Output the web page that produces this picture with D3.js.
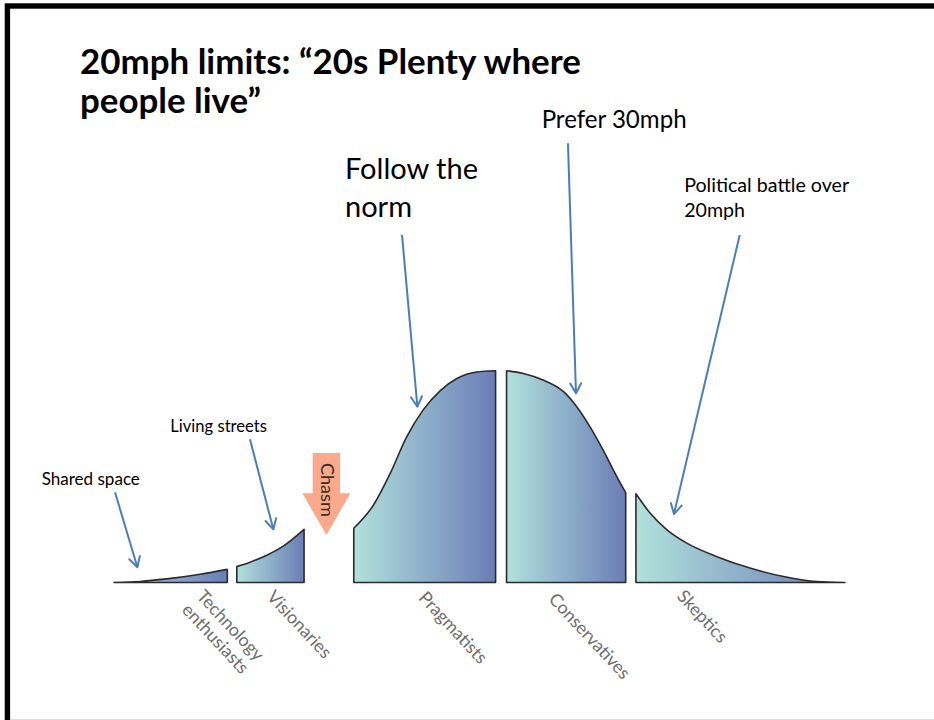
<!DOCTYPE html>
<html>
<head>
<meta charset="utf-8">
<script src="https://cdn.jsdelivr.net/npm/d3@7/dist/d3.min.js"></script>
<style>
  html, body { margin: 0; padding: 0; background: #fff; }
  svg { display: block; }
</style>
</head>
<body>
<svg id="chart" width="934" height="720"></svg>
<script>
// ---------- DATA ----------
const titleLines = ["20mph limits: \u201C20s Plenty where", "people live\u201D"];

const categories = ["Technology enthusiasts", "Visionaries", "Pragmatists", "Conservatives", "Skeptics"];
const categoryLabelLines = [["Technology", "enthusiasts"], ["Visionaries"], ["Pragmatists"], ["Conservatives"], ["Skeptics"]];

// curve samples: [position along adoption axis (0-100), height of curve (0-100 = peak)]
const enthusiastsCurve = [[0, 0], [3.6, 0.5], [7.2, 1.7], [11.8, 3.9], [15.5, 6.2]];
const visionariesCurve = [[16.8, 7.5], [18.6, 9.6], [20.9, 12.9], [23.2, 17.3], [26.0, 25.1]];
const pragmatistsCurve = [[32.8, 25.6], [35.5, 36.6], [37.8, 51.6], [40.0, 68.5], [42.3, 81.5], [44.6, 90.5], [46.9, 96.3], [49.6, 99.4], [52.2, 100]];
const conservativesCurve = [[53.7, 100], [56.0, 98.7], [58.7, 95.6], [61.5, 90.1], [63.3, 83.0], [65.1, 73.6], [66.9, 62.6], [68.8, 49.9], [70.0, 42.4]];
const skepticsCurve = [[71.4, 41.9], [73.3, 32.9], [75.6, 25.0], [78.3, 18.7], [82.4, 12.3], [87.0, 6.8], [91.6, 2.8], [96.1, 0.4], [100, 0]];

const chasmLabel = "Chasm";

const annotationTexts = [["Shared space"], ["Living streets"], ["Follow the", "norm"], ["Prefer 30mph"], ["Political battle over", "20mph"]];
// arrow tips (where each note points on the curve), same units as the curves
const annotationTargets = [[3.2, 7.2], [21.8, 25.1], [41.5, 83.0], [63.2, 89.3], [76.6, 32.3]];

// ---------- LAYOUT ----------
const svg = d3.select("#chart");
const x = d3.scaleLinear().domain([0, 100]).range([114, 845]);
const y = d3.scaleLinear().domain([0, 100]).range([582.5, 370.7]);

const curves = [enthusiastsCurve, visionariesCurve, pragmatistsCurve, conservativesCurve, skepticsCurve];
const gradStops = [
  ["#b3cfe0", "#6a7db6"],
  ["#b1e1dc", "#6b7db7"],
  ["#b1e1dc", "#6b7db7"],
  ["#b1e1dc", "#6b7db7"],
  ["#b1e1dc", "#6b7db7"]
];

// frame
svg.append("rect").attr("x", 0).attr("y", 0).attr("width", 934).attr("height", 720).attr("fill", "#fff");
svg.append("line").attr("x1", 10).attr("x2", 934).attr("y1", 719.5).attr("y2", 719.5)
  .attr("stroke", "#dedede").attr("stroke-width", 1);
svg.append("rect").attr("x", 7.4).attr("y", 6).attr("width", 1200).attr("height", 1200)
  .attr("fill", "none").attr("stroke", "#000").attr("stroke-width", 5.4);

const defs = svg.append("defs");
curves.forEach((c, i) => {
  const g = defs.append("linearGradient").attr("id", "grad" + i)
    .attr("x1", "0%").attr("x2", "100%").attr("y1", "0%").attr("y2", "0%");
  g.append("stop").attr("offset", "0%").attr("stop-color", gradStops[i][0]);
  g.append("stop").attr("offset", "100%").attr("stop-color", gradStops[i][1]);
});
defs.append("marker").attr("id", "arrowhead")
  .attr("markerUnits", "userSpaceOnUse")
  .attr("viewBox", "-13 -8 16 16").attr("refX", 0).attr("refY", 0)
  .attr("markerWidth", 16).attr("markerHeight", 16).attr("orient", "auto")
  .append("path").attr("d", "M-10,-5.5 L0,0 L-10,5.5")
  .attr("fill", "none").attr("stroke", "#4a7ebb").attr("stroke-width", 2)
  .attr("stroke-linecap", "round").attr("stroke-linejoin", "round");

// segments
const area = d3.area()
  .x(d => x(d[0])).y0(y(0)).y1(d => y(d[1]))
  .curve(d3.curveMonotoneX);

svg.append("g").selectAll("path").data(curves).join("path")
  .attr("d", d => area(d))
  .attr("fill", (d, i) => `url(#grad${i})`)
  .attr("stroke", "#2b2b2b").attr("stroke-width", 1.6)
  .attr("stroke-linejoin", "round");

// category labels (rotated)
const labelAngle = 47;
const rad = labelAngle * Math.PI / 180;
const labelStart = [[195.7, 597], [266, 597.5], [417.7, 598.5], [547.7, 600], [676, 597]];
const labelG = svg.append("g");
const labelTexts = [];
categoryLabelLines.forEach((lines, i) => {
  lines.forEach((ln, j) => {
    const lh = 20;
    const sx = labelStart[i][0] - Math.sin(rad) * lh * j;
    const sy = labelStart[i][1] + Math.cos(rad) * lh * j;
    const t = labelG.append("text")
      .attr("transform", `translate(${sx},${sy}) rotate(${labelAngle})`)
      .attr("font-family", "Lato, 'Open Sans', sans-serif")
      .attr("font-weight", 400)
      .attr("font-size", 14)
      .attr("fill", "#6e6e6e")
      .text(ln);
    labelTexts.push(t);
  });
});
// fit label size to reference widths overall
{
  const targets = { "Technology": 87, "enthusiasts": 86, "Visionaries": 85, "Pragmatists": 91, "Conservatives": 109, "Skeptics": 69 };
  let meas = 0, tgt = 0;
  labelTexts.forEach(t => { meas += t.node().getComputedTextLength(); tgt += targets[t.text()]; });
  const fs = 14 * tgt / meas;
  labelTexts.forEach(t => t.attr("font-size", fs));
}

// chasm arrow
const cx = x((visionariesCurve[visionariesCurve.length - 1][0] + pragmatistsCurve[0][0]) / 2) - 2.5;
const chasmTop = y(61.2), chasmHead = y(42.1), chasmTip = y(22.4);
const chasmPath = d3.path();
chasmPath.moveTo(cx - 13.7, chasmTop);
chasmPath.lineTo(cx + 13.7, chasmTop);
chasmPath.lineTo(cx + 13.7, chasmHead);
chasmPath.lineTo(cx + 24, chasmHead);
chasmPath.lineTo(cx, chasmTip);
chasmPath.lineTo(cx - 24, chasmHead);
chasmPath.lineTo(cx - 13.7, chasmHead);
chasmPath.closePath();
svg.append("path").attr("d", chasmPath.toString()).attr("fill", "#fba98b");
const chasmText = svg.append("text")
  .attr("transform", `translate(${cx - 5.5},${chasmTop + 37}) rotate(90)`)
  .attr("text-anchor", "middle")
  .attr("font-family", "Lato, 'Open Sans', sans-serif")
  .attr("font-weight", 400)
  .attr("font-size", 17)
  .attr("fill", "#3e2c28")
  .text(chasmLabel);
{
  const w = chasmText.node().getComputedTextLength();
  chasmText.attr("font-size", 17 * 54 / w);
}

// annotations
const annotationStarts = [[0.14, 42.6], [18.6, 67.6], [39.4, 164.1], [62.1, 207.4], [85.6, 164.1]];
const annotationTextPos = [[-9.9, 46.0], [7.7, 71.2], [31.6, 190.5], [58.5, 214.4], [78.0, 184.5]];
const annotationWidths = [98.3, 96.7, 133, 145, 165];
const annotationLineH = [0, 0, 37.7, 0, 25];
const annotationBase = [16, 16, 29, 24, 17];

const annG = svg.append("g");
annotationTargets.forEach((tgt, i) => {
  annG.append("line")
    .attr("x1", x(annotationStarts[i][0])).attr("y1", y(annotationStarts[i][1]))
    .attr("x2", x(tgt[0])).attr("y2", y(tgt[1]))
    .attr("stroke", "#4a7ebb").attr("stroke-width", 2)
    .attr("marker-end", "url(#arrowhead)");
  const t = annG.append("text")
    .attr("font-family", "Lato, Carlito, Calibri, sans-serif")
    .attr("font-size", annotationBase[i])
    .attr("fill", "#000");
  annotationTexts[i].forEach((ln, j) => {
    t.append("tspan")
      .attr("x", x(annotationTextPos[i][0]))
      .attr("y", y(annotationTextPos[i][1]) + annotationLineH[i] * j)
      .text(ln);
  });
  const first = t.select("tspan").node();
  const w = first.getComputedTextLength();
  t.attr("font-size", annotationBase[i] * annotationWidths[i] / w);
});

// title
const title = svg.append("text")
  .attr("font-family", "Lato, Carlito, Calibri, sans-serif")
  .attr("font-weight", 700)
  .attr("font-size", 32)
  .attr("fill", "#000");
titleLines.forEach((ln, j) => {
  title.append("tspan").attr("x", 80).attr("y", 74 + 38.5 * j).text(ln);
});
{
  const w = title.select("tspan").node().getComputedTextLength();
  title.attr("font-size", 32 * 501 / w);
}
</script>
</body>
</html>
